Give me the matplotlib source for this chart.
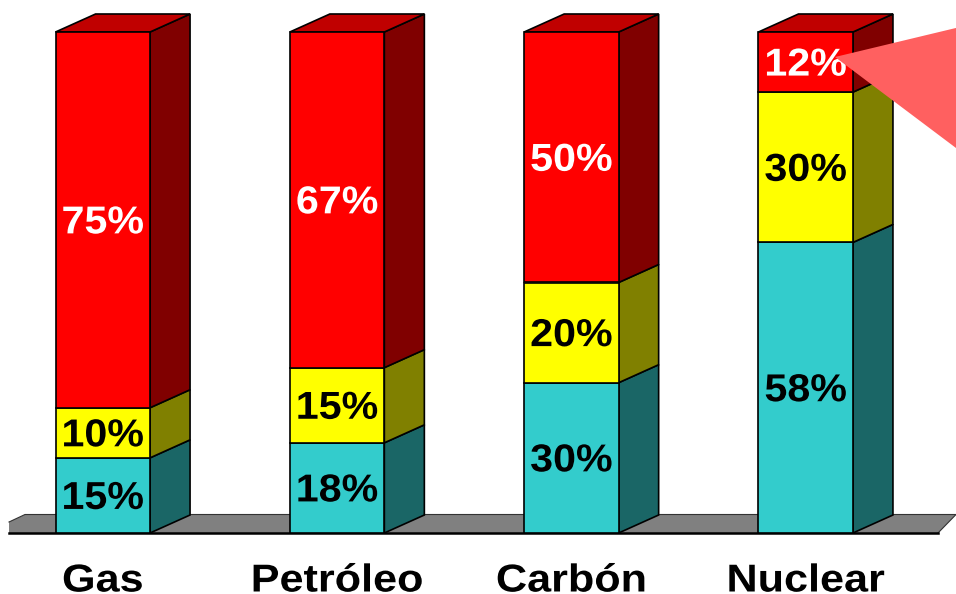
import matplotlib
matplotlib.use("Agg")
import matplotlib.pyplot as plt
from matplotlib.patches import Polygon
from matplotlib.patheffects import AbstractPathEffect
from matplotlib.transforms import Affine2D

plt.rcParams['font.family'] = ['Liberation Sans', 'DejaVu Sans']

categories = ["Gas", "Petróleo", "Carbón", "Nuclear"]
teal = [15, 18, 30, 58]
yellow = [10, 15, 20, 30]
red = [75, 67, 50, 12]

W, H = 956, 594
xu = 234.3  # px per category
yu = 5.01   # px per percent
x0 = 102.8
y0 = 533
bar_w = 94.5 / xu
dx = 40 / xu
dy = 18 / yu


class Widen(AbstractPathEffect):
    # the reference text is letter-spaced, so stretch it around its own centre
    def __init__(self, cx, sx):
        super().__init__()
        self.cx = cx
        self.sx = sx

    def draw_path(self, renderer, gc, tpath, affine, rgbFace=None):
        a = affine + Affine2D().translate(-self.cx, 0).scale(self.sx, 1).translate(self.cx, 0)
        renderer.draw_path(gc, tpath, a, rgbFace)


fig = plt.figure(figsize=(W / 100, H / 100), dpi=100)
ax = fig.add_axes([0, 0, 1, 1])
ax.set_xlim(-x0 / xu, (W - x0) / xu)
ax.set_ylim((y0 - H) / yu, y0 / yu)
ax.axis("off")


def px(x, y):
    # pixel position in the reference -> data coords
    return ((x - x0) / xu, (y0 - y) / yu)


def label(i, y, s, color, sx, fs=28, va="center"):
    cx = ax.transData.transform((i, 0))[0]
    ax.text(i, y, s, ha="center", va=va, fontsize=fs, fontweight="bold", color=color,
            zorder=5, path_effects=[Widen(cx, sx)])


# floor, cut off on the left
ax.add_patch(Polygon([px(9, 533), px(9, 522), px(25, 514.5), px(956, 514.5), px(938, 533)],
                     facecolor="#808080", edgecolor="none", zorder=1))
ax.plot(*zip(px(9, 522), px(25, 514.5), px(956, 514.5), px(938, 533)), color="#333333", lw=0.8, zorder=1)
ax.plot(*zip(px(9, 532.5), px(938, 532.5)), color="black", lw=1.8, zorder=1)


def block(i, bottom, val, front, side):
    r = i + bar_w / 2
    t = bottom + val
    ax.add_patch(Polygon([(r, bottom), (r + dx, bottom + dy), (r + dx, t + dy), (r, t)],
                         facecolor=side, edgecolor="black", lw=1.2, zorder=2))
    ax.bar(i, val, bar_w, bottom=bottom, color=front, edgecolor="black", lw=1.2, zorder=3)


for i in range(len(categories)):
    block(i, 0, teal[i], "#33cccc", "#1a6666")
    block(i, teal[i], yellow[i], "#ffff00", "#808000")
    block(i, teal[i] + yellow[i], red[i], "#ff0000", "#800000")
    l = i - bar_w / 2
    r = i + bar_w / 2
    ax.add_patch(Polygon([(l, 100), (r, 100), (r + dx, 100 + dy), (l + dx, 100 + dy)],
                         facecolor="#c00000", edgecolor="black", lw=1.2, zorder=2))

    label(i, teal[i] / 2 - 0.7, f"{teal[i]}%", "black", 1.06)
    label(i, teal[i] + yellow[i] / 2 - 0.7, f"{yellow[i]}%", "black", 1.06)
    label(i, teal[i] + yellow[i] + red[i] / 2 - 0.7, f"{red[i]}%", "white", 1.06)
    label(i, px(0, 591.5)[1], categories[i], "black", 1.11, va="baseline")

# callout wedge running off the edge
ax.add_patch(Polygon([px(835, 57), px(960, 27), px(960, 151)],
                     facecolor="#ff6060", edgecolor="none", zorder=6))

fig.savefig("out.png", dpi=100)
